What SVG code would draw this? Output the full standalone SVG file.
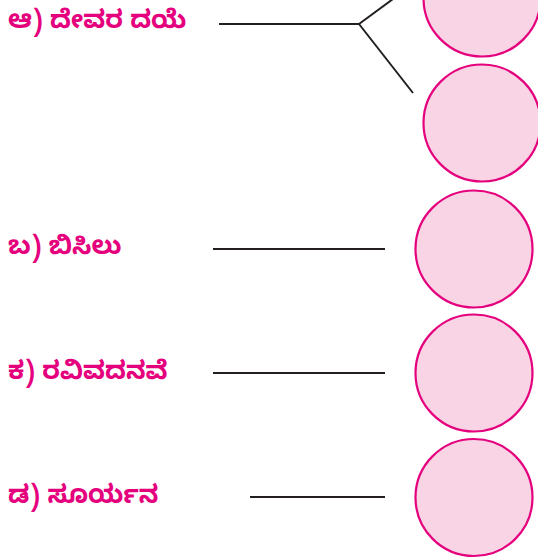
<svg xmlns="http://www.w3.org/2000/svg" width="538" height="560" viewBox="0 0 538 560">
<style>
.lbl{font-family:"Noto Sans Kannada","Noto Sans","Noto Serif Kannada",sans-serif;font-weight:bold;font-size:25.5px;fill:#e5007d}
.node circle{fill:#f8d4e5;stroke:#e5007d;stroke-width:2.2}
.conn line{stroke:#231f20;stroke-width:2;fill:none}
</style>
<rect width="538" height="560" fill="#ffffff"/>
<g id="labels">
<text id="label-a" class="lbl" x="8" y="28">ಆ) ದೇವರ ದಯೆ</text>
<text id="label-b" class="lbl" x="8" y="254">ಬ) ಬಿಸಿಲು</text>
<text id="label-c" class="lbl" x="8" y="379">ಕ) ರವಿವದನವೆ</text>
<text id="label-d" class="lbl" x="8" y="503">ಡ) ಸೂರ್ಯನ</text>
</g>
<g id="connectors" class="conn">
<line x1="219" y1="24" x2="359" y2="24"/>
<line x1="359" y1="24" x2="393" y2="-1"/>
<line x1="359" y1="24" x2="413" y2="93"/>
<line x1="213" y1="249" x2="385" y2="249"/>
<line x1="213" y1="373" x2="385" y2="373"/>
<line x1="250" y1="497" x2="385" y2="497"/>
</g>
<g id="circle-1" class="node"><circle cx="482" cy="-2" r="58.5"/></g>
<g id="circle-2" class="node"><circle cx="482" cy="123" r="58.5"/></g>
<g id="circle-3" class="node"><circle cx="474" cy="249" r="58.5"/></g>
<g id="circle-4" class="node"><circle cx="474" cy="373" r="58.5"/></g>
<g id="circle-5" class="node"><circle cx="474" cy="497.5" r="58.5"/></g>
</svg>
